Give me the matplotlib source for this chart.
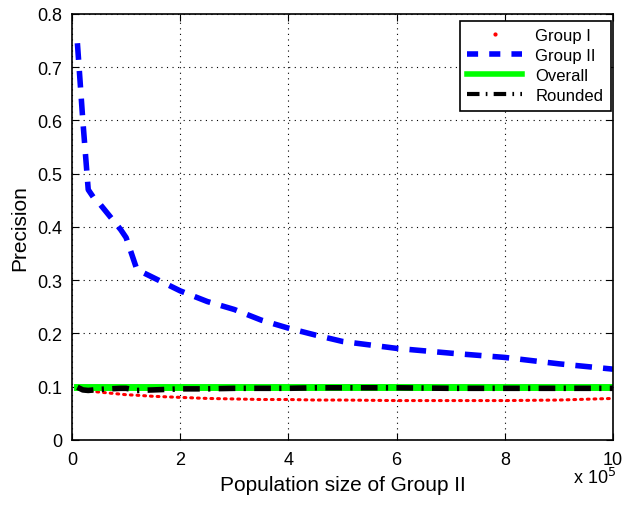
import numpy as np
import matplotlib.pyplot as plt
from matplotlib.lines import Line2D

plt.rcParams['font.family'] = ['Liberation Sans', 'DejaVu Sans']

# population size of Group II, in units of 1e5
x = [0.1, 0.2, 0.3, 0.4, 0.5, 0.7, 0.9, 1.0, 1.2, 1.5, 2.0, 2.5, 3.0,
     3.5, 4.0, 4.5, 5.0, 6.0, 7.0, 8.0, 9.0, 10.0]
group1 = [0.100, 0.096, 0.093, 0.091, 0.090, 0.088, 0.086, 0.085, 0.084, 0.082, 0.080,
          0.078, 0.077, 0.076, 0.076, 0.075, 0.075, 0.074, 0.074, 0.074, 0.075, 0.078]
group2 = [0.745, 0.60, 0.47, 0.455, 0.445, 0.42, 0.395, 0.38, 0.32, 0.305, 0.28,
          0.26, 0.245, 0.225, 0.21, 0.197, 0.185, 0.172, 0.163, 0.155, 0.143, 0.133]
overall = [0.1] * len(x)
rounded = [0.099, 0.094, 0.093, 0.094, 0.095, 0.096, 0.097, 0.097, 0.093, 0.094, 0.096,
           0.096, 0.097, 0.097, 0.097, 0.098, 0.098, 0.098, 0.097, 0.097, 0.097, 0.097]

fig = plt.figure(figsize=(6.25, 5.06), dpi=100)
ax = fig.add_axes([0.1152, 0.1285, 0.8656, 0.842])

ax.plot(x, group1, color='red', linestyle=(0, (0.6, 1.6)), linewidth=2.2, dash_capstyle='round')
ax.plot(x, group2, color='blue', linestyle=(0, (3, 2)), linewidth=4)
ax.plot(x, overall, color='#00ff00', linewidth=5)
ax.plot(x, rounded, color='black', linestyle=(0, (3, 1.5, 0.4, 1.5)), linewidth=4)

ax.set_xlim(0, 10)
ax.set_ylim(0, 0.8)
ax.set_xticks(np.arange(0, 11, 2))
ax.set_yticks(np.arange(0, 0.81, 0.1))
ax.set_yticklabels(['0', '0.1', '0.2', '0.3', '0.4', '0.5', '0.6', '0.7', '0.8'])
ax.grid(True, color='black', linestyle=(0, (1, 4)), linewidth=0.8)
ax.tick_params(direction='in', labelsize=13, top=True, right=True, length=5)
ax.tick_params(axis='y', pad=7)
ax.tick_params(axis='x', pad=8)
for s in ax.spines.values():
    s.set_linewidth(1.2)

ax.set_xlabel('Population size of Group II', fontsize=15, labelpad=5)
ax.set_ylabel('Precision', fontsize=15, labelpad=6)
fig.text(0.917, 0.043, r'x 10$^5$', fontsize=13)

handles = [
    Line2D([], [], color='red', marker='.', markersize=4, linestyle='none'),
    Line2D([], [], color='blue', linestyle=(0, (2, 2)), linewidth=4),
    Line2D([], [], color='#00ff00', linewidth=4),
    Line2D([], [], color='black', linestyle=(0, (3, 1.5, 0.4, 1.5)), linewidth=3),
]
leg = ax.legend(handles, ['Group I', 'Group II', 'Overall', 'Rounded'], loc='upper right',
                bbox_to_anchor=(0.996, 0.984), borderaxespad=0,
                fontsize=12, fancybox=False, edgecolor='black', framealpha=1,
                handlelength=3.3, labelspacing=0.3, borderpad=0.45)
leg.get_frame().set_linewidth(1.2)

fig.savefig('out.png', dpi=100)
